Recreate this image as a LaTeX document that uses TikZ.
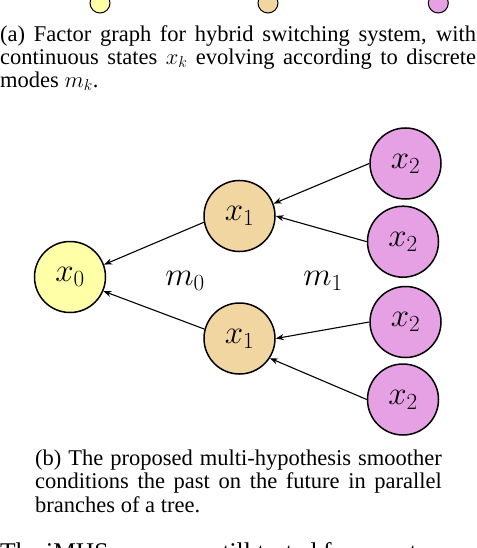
\documentclass[tikz,border=0pt]{standalone}
\usepackage{fix-cm}
\usepackage{fontspec}
\setmainfont{Liberation Serif}
\usetikzlibrary{arrows.meta}
\definecolor{cyel}{RGB}{255,255,168}
\definecolor{ctan}{RGB}{242,214,162}
\definecolor{cvio}{RGB}{230,160,228}
\begin{document}
\begin{tikzpicture}[x=1pt,y=-1pt,
  statenode/.style={circle, draw=black, line width=1.5pt, minimum size=71pt, inner sep=0pt, font=\fontsize{33}{38}\selectfont},
  mininode/.style={circle, draw=black, line width=1pt, minimum size=20pt, inner sep=0pt},
  modelabel/.style={inner sep=0pt, font=\fontsize{33}{38}\selectfont},
  conn/.style={line width=1.1pt, -{Stealth[length=8pt,width=6pt]}},
  captxt/.style={anchor=base west, inner sep=0pt, font=\fontsize{22.5}{23}\selectfont},
  bodytxt/.style={anchor=base west, inner sep=0pt, font=\fontsize{25.5}{30}\selectfont}]
\useasboundingbox (0,0) rectangle (476,548);
\clip (0,0) rectangle (476,548);
% top row of small circles (cut)
\node[mininode, fill=cyel] (ta) at (100,3) {};
\node[mininode, fill=ctan] (tb) at (268,3) {};
\node[mininode, fill=cvio] (tc) at (438.3,3) {};
% caption (a)
\node[captxt] (ca1) at (0,41.5) {\makebox[476pt][s]{(a) Factor graph for hybrid switching system, with}};
\node[captxt] (ca2) at (0,64.5) {\makebox[476pt][s]{continuous states $x_k$ evolving according to discrete}};
\node[captxt] (ca3) at (0,87.5) {modes $m_k$.};
% tree
\node[statenode, fill=cyel] (x0) at (70,277) {$x_0$};
\node[statenode, fill=ctan] (x1a) at (239.5,216) {$x_1$};
\node[statenode, fill=ctan] (x1b) at (239.5,338.5) {$x_1$};
\node[statenode, fill=cvio] (x2a) at (405.5,163.5) {$x_2$};
\node[statenode, fill=cvio] (x2b) at (403,241.7) {$x_2$};
\node[statenode, fill=cvio] (x2c) at (405.5,322) {$x_2$};
\node[statenode, fill=cvio] (x2d) at (403,399.5) {$x_2$};
\node[modelabel] (m0) at (185,281) {$m_0$};
\node[modelabel] (m1) at (323,281) {$m_1$};
\draw[conn] (x2a.west) -- (x1a.20);
\draw[conn] (x2b.west) -- (x1a.east);
\draw[conn] (x1a.190) -- (x0.20);
\draw[conn] (x1b.165) -- (x0.-23);
\draw[conn] (x2c.west) -- (x1b.east);
\draw[conn] (x2d.west) -- (x1b.-33);
% caption (b)
\node[captxt] (cb1) at (35,465) {\makebox[406.7pt][s]{(b) The proposed multi-hypothesis smoother}};
\node[captxt] (cb2) at (35,488.5) {\makebox[406.7pt][s]{conditions the past on the future in parallel}};
\node[captxt] (cb3) at (35,512) {branches of a tree.};
% body text (cut at bottom)
\node[bodytxt] (body) at (0,560) {The iMHS cases are still tested for a system};
\end{tikzpicture}
\end{document}
